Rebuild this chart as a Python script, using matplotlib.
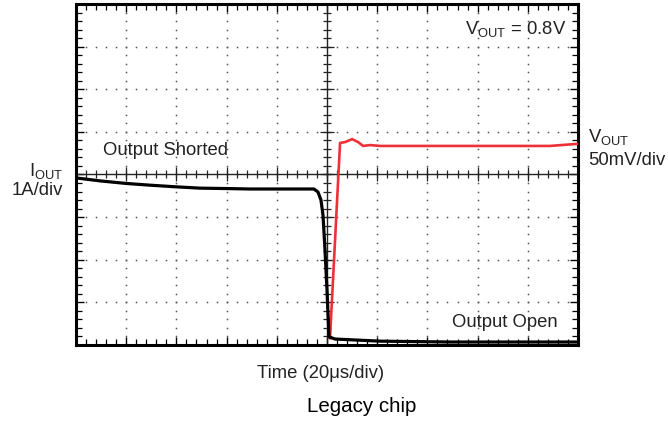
import matplotlib
matplotlib.use("Agg")
import matplotlib.pyplot as plt
import numpy as np

plt.rcParams['font.family'] = ['Liberation Sans', 'DejaVu Sans']
plt.rcParams['mathtext.fontset'] = 'custom'
plt.rcParams['mathtext.rm'] = 'Liberation Sans'
plt.rcParams['mathtext.it'] = 'Liberation Sans'

# Data in screen divisions (x: 0..10 div of 20us, y: 0..8 div)
iout_t = [0.0, 0.48, 1.0, 1.47, 2.0, 2.47, 3.0, 3.47, 4.0, 4.46, 4.74, 4.82, 4.88, 4.92, 4.96, 5.0, 5.04, 5.16, 6.06, 7.45, 10.0]
iout_v = [3.92, 3.85, 3.79, 3.75, 3.71, 3.68, 3.67, 3.66, 3.66, 3.66, 3.66, 3.59, 3.40, 3.05, 2.23, 1.29, 0.19, 0.14, 0.09, 0.07, 0.07]

vout_t = [5.06, 5.26, 5.36, 5.50, 5.62, 5.72, 5.86, 6.06, 7.45, 9.44, 10.0]
vout_v = [0.16, 4.74, 4.76, 4.83, 4.76, 4.67, 4.69, 4.67, 4.67, 4.67, 4.72]

n_xdiv = 10
n_ydiv = 8

W, H = 668, 421
fig = plt.figure(figsize=(W / 100, H / 100), dpi=100)
L, R, T, B = 76, 578, 4, 345
ax = fig.add_axes([L / W, 1 - B / H, (R - L) / W, (B - T) / H])
ax.set_xlim(0, n_xdiv)
ax.set_ylim(0, n_ydiv)

for s in ax.spines.values():
    s.set_linewidth(2.2)
    s.set_color('black')

ax.set_xticks(np.arange(0, n_xdiv + 0.01, 1))
ax.set_yticks(np.arange(0, n_ydiv + 0.01, 1))
ax.set_xticks(np.arange(0, n_xdiv + 0.01, 0.2), minor=True)
ax.set_yticks(np.arange(0, n_ydiv + 0.01, 0.2), minor=True)
ax.tick_params(which='both', direction='in', top=True, right=True,
               labelbottom=False, labelleft=False, color='black')
ax.tick_params(which='major', length=6, width=1.0)
ax.tick_params(which='minor', length=4, width=0.9)

# dotted grid (dots at minor positions)
cx, cy = n_xdiv / 2, n_ydiv / 2
minor_x = np.arange(0.2, n_xdiv, 0.2)
minor_y = np.arange(0.2, n_ydiv, 0.2)
for gx in range(1, n_xdiv):
    if gx == cx:
        continue
    ax.plot(np.full_like(minor_y, gx), minor_y, ls='none', marker='s',
            ms=1.1, mew=0, color='#555555', zorder=1)
for gy in range(1, n_ydiv):
    if gy == cy:
        continue
    ax.plot(minor_x, np.full_like(minor_x, gy), ls='none', marker='s',
            ms=1.1, mew=0, color='#555555', zorder=1)

# center axes with ticks
ax.axhline(cy, color='#222222', lw=1.0, zorder=2)
ax.axvline(cx, color='#222222', lw=1.0, zorder=2)
ax.plot(minor_x, np.full_like(minor_x, cy), ls='none', marker='|', ms=6,
        mew=0.9, color='#222222', zorder=2)
ax.plot(np.full_like(minor_y, cx), minor_y, ls='none', marker='_', ms=6,
        mew=0.9, color='#222222', zorder=2)
maj_x = np.arange(1, n_xdiv)
maj_y = np.arange(1, n_ydiv)
ax.plot(maj_x, np.full_like(maj_x, cy, dtype=float), ls='none', marker='|', ms=10,
        mew=0.9, color='#222222', zorder=2)
ax.plot(np.full_like(maj_y, cx, dtype=float), maj_y, ls='none', marker='_', ms=10,
        mew=0.9, color='#222222', zorder=2)

# traces
ax.plot(vout_t, vout_v, color='#EE3038', lw=1.9, zorder=4, solid_joinstyle='round')
ax.plot(iout_t, iout_v, color='black', lw=2.3, zorder=5, solid_joinstyle='round')


def ftext(x, y, s, **kw):
    fig.text(x / W, 1 - y / H, s, **kw)


tc = '#222222'
fs = 13.3
ftext(566, 34, r'V$_{\mathrm{OUT}}$ = 0.8V', ha='right', va='baseline', fontsize=fs, color=tc)
ftext(103, 155, 'Output Shorted', ha='left', va='baseline', fontsize=fs, color=tc)
ftext(558, 327, 'Output Open', ha='right', va='baseline', fontsize=fs, color=tc)
ftext(63, 176, r'I$_{\mathrm{OUT}}$', ha='right', va='baseline', fontsize=fs, color=tc)
ftext(63, 195, '1A/div', ha='right', va='baseline', fontsize=fs, color=tc)
ftext(588, 142, r'V$_{\mathrm{OUT}}$', ha='left', va='baseline', fontsize=fs, color=tc)
ftext(588, 165, '50mV/div', ha='left', va='baseline', fontsize=fs, color=tc)
ftext(321, 378, 'Time (20μs/div)', ha='center', va='baseline', fontsize=fs, color=tc)
ftext(307, 412, 'Legacy chip', ha='left', va='baseline', fontsize=14.8, color='black')

fig.savefig('out.png', dpi=100)
